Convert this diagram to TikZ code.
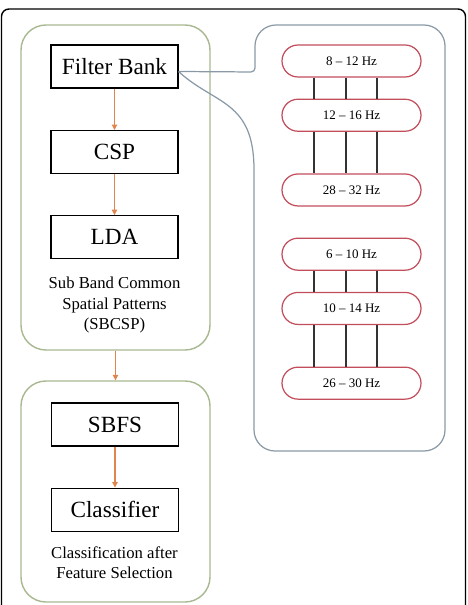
\documentclass[tikz,border=0pt]{standalone}
\usepackage{fontspec}
\setmainfont{Liberation Serif}
\usepackage{xcolor}
\usetikzlibrary{arrows.meta, positioning}

\definecolor{grpgreen}{HTML}{A8B890}
\definecolor{arrorange}{HTML}{E0864C}
\definecolor{pillred}{HTML}{C24E5C}
\definecolor{zoomgray}{HTML}{8A99A6}

\begin{document}
\begin{tikzpicture}[
    >={Triangle[length=1.1mm, width=1.1mm]},
    stage/.style={rectangle, draw, line width=0.6pt, minimum width=2.54cm,
                  minimum height=0.86cm, inner sep=0pt, font=\fontsize{13.2}{15}\selectfont},
    grp/.style={rectangle, rounded corners=0.5cm, draw=grpgreen, line width=0.8pt,
                minimum width=3.78cm, inner sep=0pt},
    arr/.style={->, arrorange, line width=0.6pt},
    grplbl/.style={align=center, font=\fontsize{9.5}{11.4}\selectfont},
    band/.style={rectangle, rounded corners=0.32cm, draw=pillred, line width=0.7pt,
                 minimum width=2.78cm, minimum height=0.64cm, inner sep=0pt,
                 font=\fontsize{7.4}{9}\selectfont},
    link/.style={line width=0.6pt, black!80}
]
\useasboundingbox (0,0) rectangle (9.34,-12.10);
\clip (0,0) rectangle (9.34,-12.10);

% outer frame
\draw[line width=0.8pt, rounded corners=0.15cm] (0.03,-0.18) rectangle (9.31,-12.6);

% SBCSP group
\node[grp, minimum height=6.50cm] (sbcsp) at (2.31,-3.75) {};
\node[stage] (fb) at (2.29,-1.33) {Filter Bank};
\node[stage, below=0.83cm of fb]  (csp) {CSP};
\node[stage, below=0.82cm of csp] (lda) {LDA};
\node[grplbl] (sbcsplbl) at (2.29,-6.10) {Sub Band Common\\Spatial Patterns\\(SBCSP)};

\draw[arr] (fb) -- (csp);
\draw[arr] (csp) -- (lda);

% classification group
\node[grp, minimum height=4.42cm] (cfs) at (2.31,-9.83) {};
\node[stage] (sbfs) at (2.30,-8.49) {SBFS};
\node[stage, below=0.82cm of sbfs] (clf) {Classifier};
\node[grplbl] (cfslbl) at (2.29,-11.26) {Classification after\\Feature Selection};

\draw[arr] (sbcsp) -- (cfs);
\draw[arr] (sbfs) -- (clf);

% zoomed filter bank
\draw[zoomgray, line width=0.7pt]
    ([yshift=-0.1cm]fb.east) [rounded corners=0.08cm] -- (5.10,-1.44)
    [rounded corners=0.42cm] -- (5.10,-0.50) -- (8.90,-0.50) -- (8.90,-9.02) -- (5.08,-9.02)
    [rounded corners=0pt] -- (5.08,-3.4)
    .. controls (5.08,-2.0) and (4.30,-2.1) .. ([yshift=-0.1cm]fb.east);

\node[band] (b1) at (7.03,-1.22) {8 -- 12 Hz};
\node[band, below=0.42cm of b1] (b2) {12 -- 16 Hz};
\node[band, below=0.83cm of b2] (b3) {28 -- 32 Hz};
\node[band, below=0.62cm of b3] (b4) {6 -- 10 Hz};
\node[band, below=0.42cm of b4] (b5) {10 -- 14 Hz};
\node[band, below=0.83cm of b5] (b6) {26 -- 30 Hz};

\draw[link] (6.28,0 |- b1.south) -- (6.28,0 |- b2.north)
            (6.92,0 |- b1.south) -- (6.92,0 |- b2.north)
            (7.54,0 |- b1.south) -- (7.54,0 |- b2.north);
\draw[link] (6.28,0 |- b2.south) -- (6.28,0 |- b3.north)
            (6.92,0 |- b2.south) -- (6.92,0 |- b3.north)
            (7.54,0 |- b2.south) -- (7.54,0 |- b3.north);
\draw[link] (6.28,0 |- b4.south) -- (6.28,0 |- b5.north)
            (6.92,0 |- b4.south) -- (6.92,0 |- b5.north)
            (7.54,0 |- b4.south) -- (7.54,0 |- b5.north);
\draw[link] (6.28,0 |- b5.south) -- (6.28,0 |- b6.north)
            (6.92,0 |- b5.south) -- (6.92,0 |- b6.north)
            (7.54,0 |- b5.south) -- (7.54,0 |- b6.north);
\end{tikzpicture}
\end{document}
